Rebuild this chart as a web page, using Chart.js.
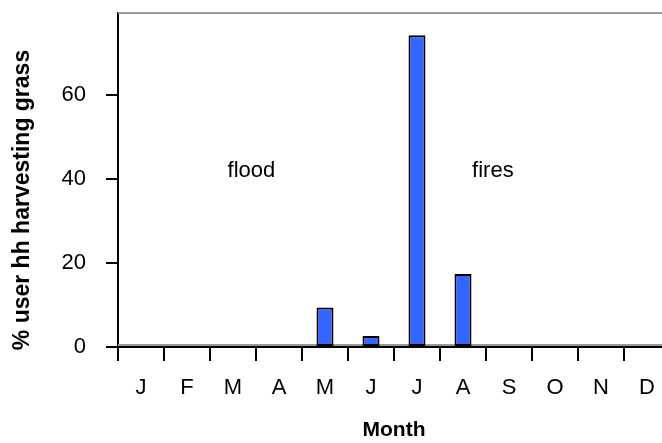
<!DOCTYPE html>
<html>
<head>
<meta charset="utf-8">
<script src="https://cdn.jsdelivr.net/npm/chart.js@4/dist/chart.umd.min.js"></script>
<style>
  html, body { margin: 0; padding: 0; background: #fff; overflow: hidden; }
  #wrap { width: 662px; height: 443px; overflow: hidden; }
</style>
</head>
<body>
<div id="wrap"><canvas id="chart" width="690" height="443"></canvas></div>
<script>
// months along the x axis
const months = ['J', 'F', 'M', 'A', 'M', 'J', 'J', 'A', 'S', 'O', 'N', 'D'];
// % of user households harvesting grass
const harvesting = [0, 0, 0, 0, 9.4, 2.6, 74.2, 17.4, 0, 0, 0, 0];
const yTicks = [0, 20, 40, 60];
const yMax = 79.5;
const yTitle = '% user hh harvesting grass';
// event labels placed in data coordinates (x = category index)
const notes = [
  { text: 'flood', x: 2.4, y: 42 },
  { text: 'fires', x: 7.65, y: 42 }
];

const FONT = "'Liberation Sans', Arial, sans-serif";

const extras = {
  id: 'extras',
  beforeDatasetsDraw(chart) {
    const { ctx, chartArea: a, scales: { x, y } } = chart;
    ctx.save();
    ctx.strokeStyle = '#999';
    ctx.lineWidth = 2;
    ctx.beginPath();
    ctx.moveTo(a.left, a.top);
    ctx.lineTo(a.right, a.top);
    ctx.moveTo(a.left, y.getPixelForValue(0) - 2);
    ctx.lineTo(a.right, y.getPixelForValue(0) - 2);
    ctx.stroke();
    ctx.fillStyle = '#000';
    ctx.font = '22px ' + FONT;
    ctx.textAlign = 'center';
    ctx.textBaseline = 'middle';
    notes.forEach(n => ctx.fillText(n.text, x.getPixelForValue(n.x), y.getPixelForValue(n.y)));
    // y axis title, a little below the middle of the axis as in the original
    ctx.font = 'bold 23px ' + FONT;
    ctx.translate(23, 200);
    ctx.rotate(-Math.PI / 2);
    ctx.fillText(yTitle, 0, 0);
    ctx.restore();
  }
};

new Chart(document.getElementById('chart').getContext('2d'), {
  type: 'bar',
  data: {
    labels: months,
    datasets: [{
      data: harvesting,
      backgroundColor: '#3366ff',
      borderColor: '#000',
      borderWidth: 2,
      borderSkipped: false,
      barPercentage: 0.37,
      categoryPercentage: 1
    }]
  },
  options: {
    responsive: false,
    animation: false,
    layout: { padding: { top: 13, right: 20, left: 0, bottom: 0 } },
    plugins: { legend: { display: false }, tooltip: { enabled: false } },
    scales: {
      x: {
        grid: { drawOnChartArea: false, offset: true, tickLength: 14, color: '#000', lineWidth: 2 },
        border: { color: '#000', width: 2 },
        ticks: { color: '#000', font: { family: FONT, size: 22 }, padding: 14, maxRotation: 0 },
        title: { display: true, text: 'Month', color: '#000', font: { family: FONT, size: 21, weight: 'bold' }, padding: { top: 0, bottom: 0 } },
        afterFit(s) { s.height = 96; s.paddingLeft = 0; s.paddingRight = 0; }
      },
      y: {
        min: 0, max: yMax,
        afterBuildTicks(s) { s.ticks = yTicks.map(v => ({ value: v })); },
        grid: { drawOnChartArea: false, tickLength: 12, lineWidth: 2, color: '#000' },
        border: { color: '#000', width: 2 },
        ticks: { color: '#000', font: { family: FONT, size: 22 }, padding: 20 },
        afterFit(s) { s.width = 118; s.paddingTop = 0; s.paddingBottom = 0; }
      }
    }
  },
  plugins: [extras]
});
</script>
</body>
</html>
